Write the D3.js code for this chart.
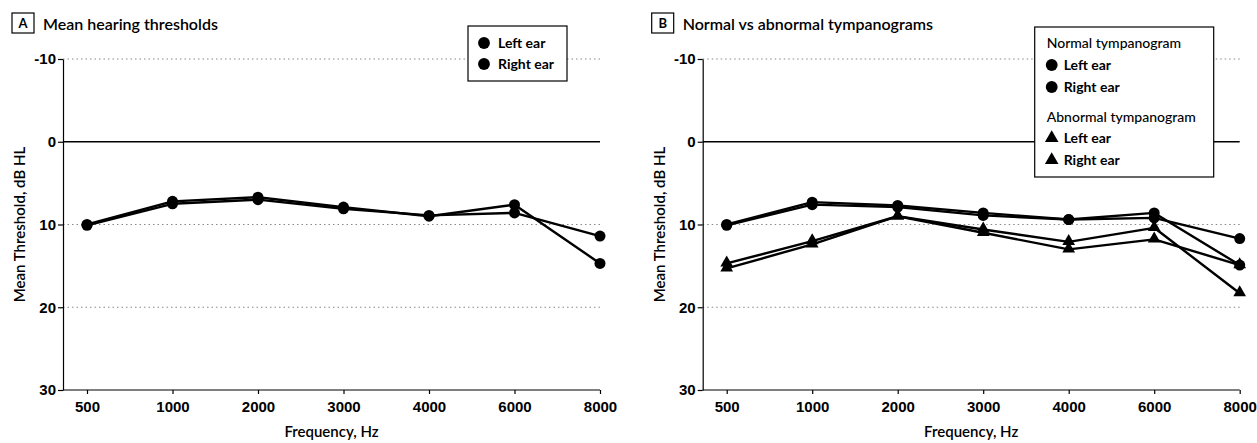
<!DOCTYPE html>
<html>
<head>
<meta charset="utf-8">
<script src="https://cdn.jsdelivr.net/npm/d3@7/dist/d3.min.js"></script>
<style>
  body { margin: 0; background: #fff; }
  svg { display: block; font-family: Lato, "Noto Sans", sans-serif; }
  .tick text { font-size: 15px; font-weight: bold; fill: #000; }
  .tick line, .domain { stroke: #000; stroke-width: 1.2; }
</style>
</head>
<body>
<div id="chart"></div>
<script>
// frequencies and y ticks
var freqs = ["500", "1000", "2000", "3000", "4000", "6000", "8000"];
var yTicks = [-10, 0, 10, 20, 30];

// panel A, mean hearing thresholds (dB HL)
var leftEarA  = [10.0, 7.2, 6.7, 7.9, 9.0, 7.6, 14.7];
var rightEarA = [10.1, 7.5, 7.0, 8.1, 8.9, 8.6, 11.4];

// panel B, normal vs abnormal tympanograms
var normLeftB  = [10.0, 7.3, 7.7, 8.6, 9.4, 8.6, 14.9];
var normRightB = [10.1, 7.6, 7.9, 8.9, 9.4, 9.2, 11.7];
var abnLeftB   = [14.7, 12.0, 9.0, 10.6, 12.1, 10.4, 18.3];
var abnRightB  = [15.3, 12.4, 9.0, 11.0, 13.0, 11.8, 14.9];

var svg = d3.select("#chart").append("svg")
    .attr("width", 1257)
    .attr("height", 443);

function drawPanel(ox, letter, title, series, legend) {
    var axisX = 63, left = 87, right = 600;
    var g = svg.append("g").attr("transform", "translate(" + ox + ",0)");

    var x = d3.scalePoint().domain(freqs).range([left, right]);
    var y = d3.scaleLinear().domain([-10, 30]).range([59, 390]);

    // grid lines
    g.selectAll(".grid").data([-10, 10, 20]).enter().append("line")
        .attr("x1", axisX).attr("x2", right)
        .attr("y1", function(d) { return y(d); })
        .attr("y2", function(d) { return y(d); })
        .attr("stroke", "#888").attr("stroke-width", 1)
        .attr("stroke-dasharray", "1.5,3");
    g.append("line")
        .attr("x1", axisX).attr("x2", right)
        .attr("y1", y(0)).attr("y2", y(0))
        .attr("stroke", "#000").attr("stroke-width", 1.6);

    // axes
    g.append("g")
        .attr("transform", "translate(" + axisX + ",0)")
        .call(d3.axisLeft(y).tickValues(yTicks).tickSize(5).tickSizeOuter(0).tickPadding(2)
            .tickFormat(function(d) { return String(d); }));

    var xa = g.append("g")
        .attr("transform", "translate(0," + y(30) + ")")
        .call(d3.axisBottom(x).tickSize(4).tickPadding(5));
    xa.select(".domain").remove();
    xa.selectAll(".tick text").attr("dy", "0.85em");
    g.append("line")
        .attr("x1", axisX).attr("x2", right)
        .attr("y1", y(30)).attr("y2", y(30))
        .attr("stroke", "#000").attr("stroke-width", 1.2);

    // axis titles
    g.append("text")
        .attr("text-anchor", "middle")
        .attr("transform", "translate(25," + y(10) + ")rotate(-90)")
        .attr("font-size", 15).attr("font-weight", 600)
        .text("Mean Threshold, dB HL");
    g.append("text")
        .attr("text-anchor", "middle")
        .attr("x", (axisX + right) / 2).attr("y", 437)
        .attr("font-size", 15).attr("font-weight", 600)
        .text("Frequency, Hz");

    // panel title
    g.append("rect")
        .attr("x", 12).attr("y", 13).attr("width", 22).attr("height", 20)
        .attr("fill", "none").attr("stroke", "#000").attr("stroke-width", 1.2);
    g.append("text")
        .attr("x", 23).attr("y", 28).attr("text-anchor", "middle")
        .attr("font-size", 13).attr("font-weight", "bold")
        .text(letter);
    g.append("text")
        .attr("x", 43).attr("y", 30)
        .attr("font-size", 16).attr("font-weight", 600)
        .text(title);

    // lines
    var line = d3.line()
        .x(function(d, i) { return x(freqs[i]); })
        .y(function(d) { return y(d); });

    series.forEach(function(s) {
        g.append("path")
            .datum(s.values)
            .attr("fill", "none").attr("stroke", "#000").attr("stroke-width", 2.4)
            .attr("stroke-linejoin", "round")
            .attr("d", line);
    });
    series.forEach(function(s) {
        var sym = d3.symbol().type(s.shape === "tri" ? d3.symbolTriangle : d3.symbolCircle)
            .size(s.shape === "tri" ? 70 : 95);
        g.selectAll(null).data(s.values).enter().append("path")
            .attr("d", sym)
            .attr("transform", function(d, i) {
                return "translate(" + x(freqs[i]) + "," + (y(d) + (s.shape === "tri" ? -0.5 : 0)) + ")";
            })
            .attr("fill", "#000");
    });

    // legend
    var lg = g.append("g");
    lg.append("rect")
        .attr("x", legend.x).attr("y", legend.y)
        .attr("width", legend.w).attr("height", legend.h)
        .attr("fill", "#fff").attr("stroke", "#000").attr("stroke-width", 1.2);
    legend.rows.forEach(function(r) {
        if (r.head) {
            lg.append("text")
                .attr("x", legend.x + 12).attr("y", r.y + 5)
                .attr("font-size", 14).attr("font-weight", 500)
                .text(r.head);
            return;
        }
        var sym = d3.symbol().type(r.shape === "tri" ? d3.symbolTriangle : d3.symbolCircle)
            .size(r.shape === "tri" ? 80 : 110);
        lg.append("path")
            .attr("d", sym)
            .attr("transform", "translate(" + (legend.x + legend.mx) + "," + r.y + ")")
            .attr("fill", "#000");
        lg.append("text")
            .attr("x", legend.x + legend.tx).attr("y", r.y + 5)
            .attr("font-size", 14).attr("font-weight", "bold")
            .text(r.label);
    });
}

drawPanel(0, "A", "Mean hearing thresholds",
    [{values: leftEarA, shape: "circle"}, {values: rightEarA, shape: "circle"}],
    {x: 468, y: 26, w: 99, h: 55, mx: 16, tx: 30,
     rows: [{y: 43, label: "Left ear", shape: "circle"},
            {y: 64, label: "Right ear", shape: "circle"}]});

drawPanel(639.7, "B", "Normal vs abnormal tympanograms",
    [{values: normLeftB, shape: "circle"}, {values: normRightB, shape: "circle"},
     {values: abnLeftB, shape: "tri"}, {values: abnRightB, shape: "tri"}],
    {x: 395, y: 27, w: 179, h: 150, mx: 17, tx: 29,
     rows: [{y: 43, head: "Normal tympanogram"},
            {y: 65, label: "Left ear", shape: "circle"},
            {y: 87, label: "Right ear", shape: "circle"},
            {y: 117, head: "Abnormal tympanogram"},
            {y: 138, label: "Left ear", shape: "tri"},
            {y: 160, label: "Right ear", shape: "tri"}]});
</script>
</body>
</html>
